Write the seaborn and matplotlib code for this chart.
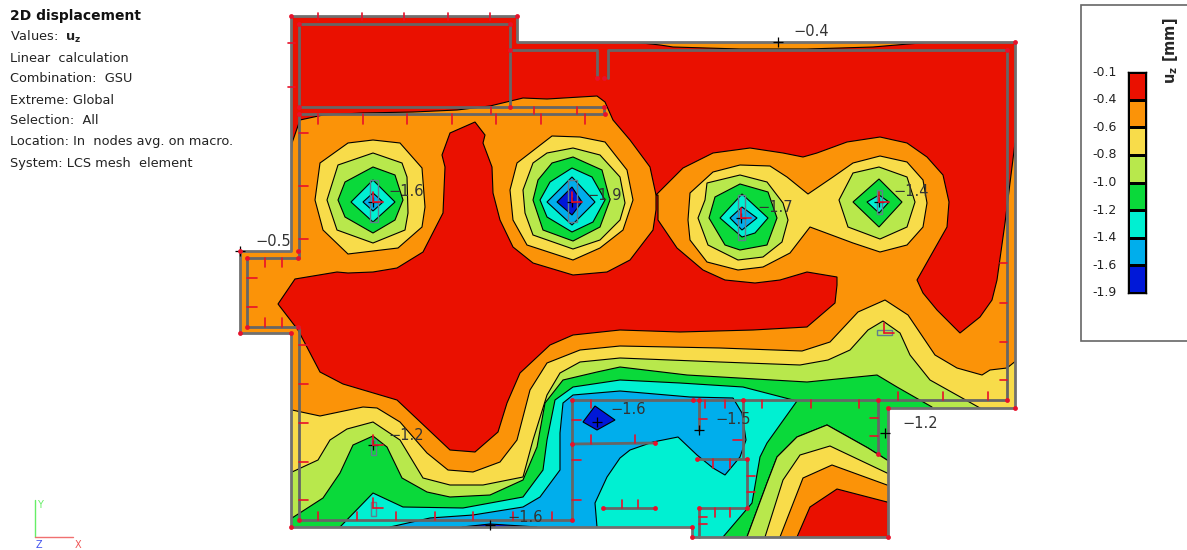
import pandas as pd
import matplotlib
matplotlib.use('Agg')
import matplotlib.pyplot as plt
from matplotlib.colors import ListedColormap
from matplotlib.patches import Polygon
import seaborn as sb

# legend
levels = ['-0.1', '-0.4', '-0.6', '-0.8', '-1.0', '-1.2', '-1.4', '-1.6', '-1.9']
band_colors = ['#EA1000', '#FB9308', '#F8DC4A', '#B8E84C', '#0AD93A', '#00F0D2', '#00AEEC', '#0018D8']
RED, ORANGE, YELLOW, LIME, GREEN, CYAN, BLUE, DARK = band_colors

info_lines = ['Values:  $\\mathbf{u_z}$', 'Linear  calculation', 'Combination:  GSU', 'Extreme: Global',
              'Selection:  All', 'Location: In  nodes avg. on macro.', 'System: LCS mesh  element']

# slab outline
slab = [(291,16),(517,16),(517,42),(1015,42),(1015,408),(888,408),(888,537),(692,537),(692,527),
        (291,527),(291,333),(240,333),(240,251),(291,251)]

# contour bands, outermost first
red_top = [(291,163),(292,143),(300,120),(323,115),(363,113),(413,112),(457,110),(490,106),(523,98),(547,99),
           (597,96),(605,102),(613,120),(630,140),(650,167),(656,195),(683,168),(713,153),(750,148),(783,153),
           (803,157),(817,153),(847,142),(880,137),(907,143),(927,157),(943,175),(949,202),(947,227),(930,257),
           (917,280),(923,293),(937,310),(960,333),(980,317),(992,300),(997,280),(1005,223),(1015,143),
           (1025,143),(1025,30),(280,10),(280,163)]
red_mid = [(278,304),(295,279),(337,272),(348,273),(373,272),(397,268),(423,252),(443,213),(445,167),(442,155),
           (450,133),(475,122),(485,135),(483,143),(492,167),(493,193),(500,220),(513,247),(533,263),(573,275),
           (607,272),(630,260),(653,230),(656,210),(656,195),(658,195),(658,220),(677,248),(703,270),(725,280),
           (755,283),(780,280),(807,272),(837,277),(837,285),(835,303),(807,327),(753,330),(680,332),(620,330),
           (573,335),(550,345),(520,373),(507,403),(498,432),(475,452),(450,450),(397,400),(343,384),(320,372),
           (298,330)]
top_lens = [(633,42),(660,45),(673,47),(740,49),(807,49),(873,47),(932,42),(932,35),(633,35)]
yellow_low = [(285,410),(292,410),(320,416),(363,407),(377,408),(400,422),(427,453),(448,470),(473,472),(500,462),
              (517,440),(530,390),(547,363),(580,350),(620,346),(720,348),(802,351),(830,342),(858,312),(885,300),
              (908,315),(935,355),(957,368),(982,375),(990,370),(1007,368),(1017,360),(1025,360),(1025,560),(285,560)]
lime_low = [(285,472),(292,472),(318,460),(330,440),(347,429),(373,422),(400,440),(423,478),(450,485),(483,485),
            (523,477),(533,440),(547,395),(560,373),(580,362),(620,358),(720,362),(800,365),(828,360),(850,350),
            (868,330),(883,321),(900,333),(910,355),(930,380),(980,408),(980,560),(285,560)]
green_low = [(285,518),(292,518),(323,498),(340,473),(353,445),(373,436),(387,447),(402,478),(427,492),(450,497),
             (490,495),(523,480),(537,447),(545,403),(563,380),(597,372),(620,367),(687,375),(807,382),(877,375),
             (897,387),(932,407),(932,415),(895,415),(895,462),(887,460),(868,448),(827,425),(797,437),(777,457),
             (767,483),(747,537),(747,560),(285,560)]
lime_corner = [(895,463),(887,460),(868,448),(827,425),(797,437),(777,457),(767,483),(747,537),(747,550),(895,550)]
yellow_corner = [(895,476),(887,473),(830,446),(800,455),(783,480),(765,537),(765,550),(895,550)]
orange_corner = [(895,488),(887,485),(832,465),(803,478),(780,537),(780,550),(895,550)]
red_corner = [(895,505),(887,502),(837,489),(810,507),(797,537),(797,550),(895,550)]
cyan_low = [(335,545),(340,527),(373,493),(403,507),(463,508),(523,497),(543,470),(547,440),(555,400),(573,387),
            (620,380),(680,383),(743,387),(797,401),(767,443),(760,457),(752,503),(723,537),(723,545)]
blue_low = [(390,535),(390,527),(430,518),(473,515),(523,507),(540,497),(560,470),(560,433),(563,403),(573,395),
            (620,391),(690,397),(733,398),(742,413),(746,440),(740,457),(725,475),(713,468),(697,455),(678,437),
            (653,442),(630,450),(620,458),(607,477),(595,503),(597,527),(597,535)]
dark_spot = [(595,406),(615,420),(597,430),(583,422)]
dark_lens = [(462,527),(490,524),(537,527),(537,532),(462,532)]

# rings round the columns
column_a = [
    (YELLOW, [(348,143),(373,140),(400,143),(422,168),(425,207),(422,227),(398,248),(348,254),(323,230),(315,200),(320,163)]),
    (LIME, [(338,165),(373,153),(402,163),(407,177),(408,213),(405,230),(373,243),(337,230),(327,200)]),
    (GREEN, [(345,182),(373,167),(395,175),(403,200),(395,220),(373,233),(345,217),(338,200)]),
    (CYAN, [(373,180),(395,202),(373,222),(351,202)]),
    (BLUE, [(373,193),(383,202),(373,211),(363,202)]),
]
column_b = [
    (YELLOW, [(552,136),(580,137),(605,142),(627,170),(633,200),(623,230),(600,248),(573,260),(527,245),(513,220),(510,190),(517,163)]),
    (LIME, [(547,153),(573,148),(600,155),(620,177),(625,203),(620,220),(600,240),(573,249),(533,235),(525,213),(523,190),(533,163)]),
    (GREEN, [(552,163),(573,157),(602,170),(610,200),(600,227),(573,241),(543,230),(533,200),(538,180)]),
    (CYAN, [(550,182),(572,168),(592,177),(605,200),(593,222),(572,232),(547,217),(540,200)]),
    (BLUE, [(572,177),(595,202),(572,225),(547,202)]),
    (DARK, [(572,187),(582,202),(572,215),(557,202)]),
]
column_cd = [
    (YELLOW, [(690,193),(713,172),(740,165),(770,166),(787,177),(808,194),(833,177),(853,163),(880,156),(907,162),(923,180),
              (927,203),(923,227),(907,245),(880,252),(853,243),(810,227),(790,253),(763,267),(738,270),(707,262),(690,240),(688,220)]),
    (LIME, [(707,183),(740,175),(767,182),(783,203),(788,220),(782,242),(763,257),(738,260),(708,245),(698,218),(705,200)]),
    (GREEN, [(715,197),(740,184),(768,192),(777,218),(767,245),(740,250),(725,245),(709,218)]),
    (CYAN, [(742,194),(768,218),(755,233),(742,237),(720,218)]),
    (BLUE, [(742,207),(757,218),(742,230),(730,218)]),
    (LIME, [(853,173),(879,167),(907,177),(915,202),(907,227),(880,239),(848,227),(839,200)]),
    (GREEN, [(879,179),(902,202),(879,227),(853,202)]),
    (CYAN, [(879,195),(889,202),(879,213),(867,202)]),
]

# inner walls
walls = [[(299,24),(510,24),(510,107)],[(299,24),(299,107),(604,107),(604,114),(299,114),(299,258),(247,258),(247,327),
         (299,327),(299,520),(572,520),(572,400),(1007,400),(1007,50),(608,50),(608,78)],
         [(510,50),(597,50),(597,78)],[(572,444),(655,443)],[(603,508),(655,508)],[(697,459),(747,459),(747,508),(699,508),(699,537)],
         [(699,400),(699,430)],[(743,400),(743,457)],[(878,400),(878,454)]]

# column outlines (x, y, w, h)
column_boxes = [(370,180,8,42),(568,180,9,42),(738,195,7,45),(877,190,5,24),(371,440,5,15),(371,502,5,14),(877,330,15,5)]

# short red strips on the walls (x0, y0, x1, y1)
strips = [(x,13,x,20) for x in [318,362,404,448,490]] + [(288,y,295,y) for y in [43,87]] \
    + [(x,114,x,124) for x in [318,363,407,452,496,541,585]] + [(x,107,x,114) for x in [491,534,577]] \
    + [(299,y,308,y) for y in [133,186,239,345,384,423,462,500]] \
    + [(x,258,x,267) for x in [265,282]] + [(x,318,x,327) for x in [265,282]] + [(247,y,257,y) for y in [278,307]] \
    + [(x,512,x,520) for x in [318,357,396,435,473,513,552]] + [(572,y,581,y) for y in [420,460,500]] \
    + [(591,400,591,408),(591,435,591,444),(635,435,635,443),(705,400,705,408),(699,419,707,419),(733,440,742,440)] \
    + [(x,400,x,408) for x in [725,762,811,859]] + [(x,392,x,400) for x in [898,943,988]] \
    + [(x,459,x,468) for x in [713,730]] + [(747,y,755,y) for y in [476,492]] + [(x,508,x,517) for x in [715,730]] \
    + [(699,y,707,y) for y in [517,524]] + [(x,500,x,508) for x in [622,638]] + [(870,y,878,y) for y in [418,436]] \
    + [(1000,y,1007,y) for y in [263,303,342,380]] \
    + [(x0+0,y,x0+10,y) for x0,y in [(373,202),(572,202),(741,218),(879,202),(373,445),(373,508),(884,333)]] \
    + [(x,y-10,x,y) for x,y in [(373,202),(572,202),(741,218),(879,202),(373,445),(373,508),(884,333)]]

nodes = [(291,16),(517,16),(1015,42),(1015,408),(888,408),(888,537),(692,537),(692,527),(291,527),(291,333),(240,333),
         (240,251),(298,251),(299,24),(510,24),(510,107),(299,107),(604,107),(605,114),(299,114),(298,258),(247,258),(247,327),
         (298,327),(299,520),(572,520),(572,400),(572,444),(655,443),(603,508),(655,508),(697,459),(747,459),(747,508),(699,508),
         (699,400),(693,400),(743,400),(878,400),(878,454),(1007,400),(1007,50),(510,50),(597,78),(604,78)]

# extreme values
extreme_x = [240, 778, 373, 572, 741, 879, 373, 597, 699, 490, 885]
extreme_y = [251, 42, 202, 202, 218, 202, 445, 422, 430, 525, 433]
extreme_labels = ['\u22120.5', '\u22120.4', '\u22121.6', '\u22121.9', '\u22121.7', '\u22121.4', '\u22121.2', '\u22121.6', '\u22121.5', '\u22121.6', '\u22121.2']
label_x = [255, 793, 388, 586, 757, 893, 388, 610, 715, 507, 902]
label_y = [241, 32, 192, 195, 207, 192, 436, 410, 420, 517, 424]


def frame(lines):
    rows = []
    for i, line in enumerate(lines):
        for x, y in line:
            rows.append({'line': i, 'x': x, 'y': y})
    return pd.DataFrame(rows)


sb.set_theme(style='white')
plt.rcParams['font.family'] = ['DejaVu Sans']
plt.rcParams['mathtext.fontset'] = 'dejavusans'

fig = plt.figure(figsize=(11.87, 5.5), dpi=100)
ax = fig.add_axes([0, 0, 1, 1])

outline = Polygon(slab, closed=True, facecolor=ORANGE, edgecolor='none', zorder=1)
ax.add_patch(outline)

layers = [(RED, red_top), (RED, red_mid), (ORANGE, top_lens), (YELLOW, yellow_low), (LIME, lime_low), (GREEN, green_low),
          (LIME, lime_corner), (YELLOW, yellow_corner), (ORANGE, orange_corner), (RED, red_corner),
          (CYAN, cyan_low), (BLUE, blue_low), (DARK, dark_spot), (DARK, dark_lens)]
layers += column_a + column_b + column_cd
for color, pts in layers:
    p = Polygon(pts, closed=True, facecolor=color, edgecolor='black', linewidth=0.8, zorder=2)
    ax.add_patch(p)
    p.set_clip_path(outline)

sb.lineplot(data=frame(walls), x='x', y='y', units='line', estimator=None, sort=False,
            color='#666666', linewidth=2, ax=ax, legend=False, zorder=3)
sb.lineplot(data=frame([slab + slab[:1]]), x='x', y='y', units='line', estimator=None, sort=False,
            color='#707070', linewidth=2, ax=ax, legend=False, zorder=3)
for x, y, w, h in column_boxes:
    ax.add_patch(plt.Rectangle((x, y), w, h, facecolor='none', edgecolor='#5f7f8f', linewidth=1, zorder=3))
sb.scatterplot(x=extreme_x, y=extreme_y, marker='+', color='black', s=45, linewidth=0.9, ax=ax, zorder=3.5)
strip_lines = [[(a, b), (c, d)] for a, b, c, d in strips]
sb.lineplot(data=frame(strip_lines), x='x', y='y', units='line', estimator=None, sort=False,
            color='#E8102A', linewidth=1.2, ax=ax, legend=False, zorder=4)
sb.scatterplot(x=[n[0] for n in nodes], y=[n[1] for n in nodes], color='#E8102A', s=12, linewidth=0, ax=ax, zorder=5)
for x, y, s in zip(label_x, label_y, extreme_labels):
    ax.text(x, y, s, fontsize=10.5, color='#333333', ha='left', va='center', zorder=7)

# text block
ax.text(10, 16, '2D displacement', fontsize=10, fontweight='bold', va='center', color='#111111')
for i, s in enumerate(info_lines):
    ax.text(10, 37 + i * 21, s, fontsize=9.3, va='center', color='#222222')

# axis triad
ax.plot([35, 35], [500, 537], color='#66EE66', lw=1)
ax.plot([35, 73], [537, 537], color='#F07070', lw=1)
ax.text(40, 505, 'Y', color='#66EE66', fontsize=7, ha='center', va='center')
ax.text(39, 545, 'Z', color='#4455EE', fontsize=7, ha='center', va='center')
ax.text(78, 545, 'X', color='#EE5555', fontsize=7, ha='center', va='center')

# legend box
ax.add_patch(plt.Rectangle((1081, 5), 130, 336, facecolor='white', edgecolor='#666666', linewidth=1.2, zorder=1))
ax.text(1171, 51, '$\\mathbf{u_z}$ [mm]', rotation=90, fontsize=10.5, fontweight='bold', ha='center', va='center')

ax.set_xlim(0, 1187)
ax.set_ylim(550, 0)
ax.axis('off')

cax = fig.add_axes([1128 / 1187, 1 - 293 / 550, 18 / 1187, 221 / 550])
sb.heatmap(pd.DataFrame({'band': range(8)}), ax=cax, cmap=ListedColormap(band_colors), cbar=False,
           linewidths=0.8, linecolor='black', xticklabels=False)
cax.set_yticks(range(9))
cax.set_yticklabels(levels, rotation=0, fontsize=9, color='#222222')
cax.tick_params(axis='y', length=0, pad=8)
cax.set_ylabel('')
for s in cax.spines.values():
    s.set_visible(True)
    s.set_color('black')
    s.set_linewidth(1)

fig.savefig('out.png', dpi=100)
